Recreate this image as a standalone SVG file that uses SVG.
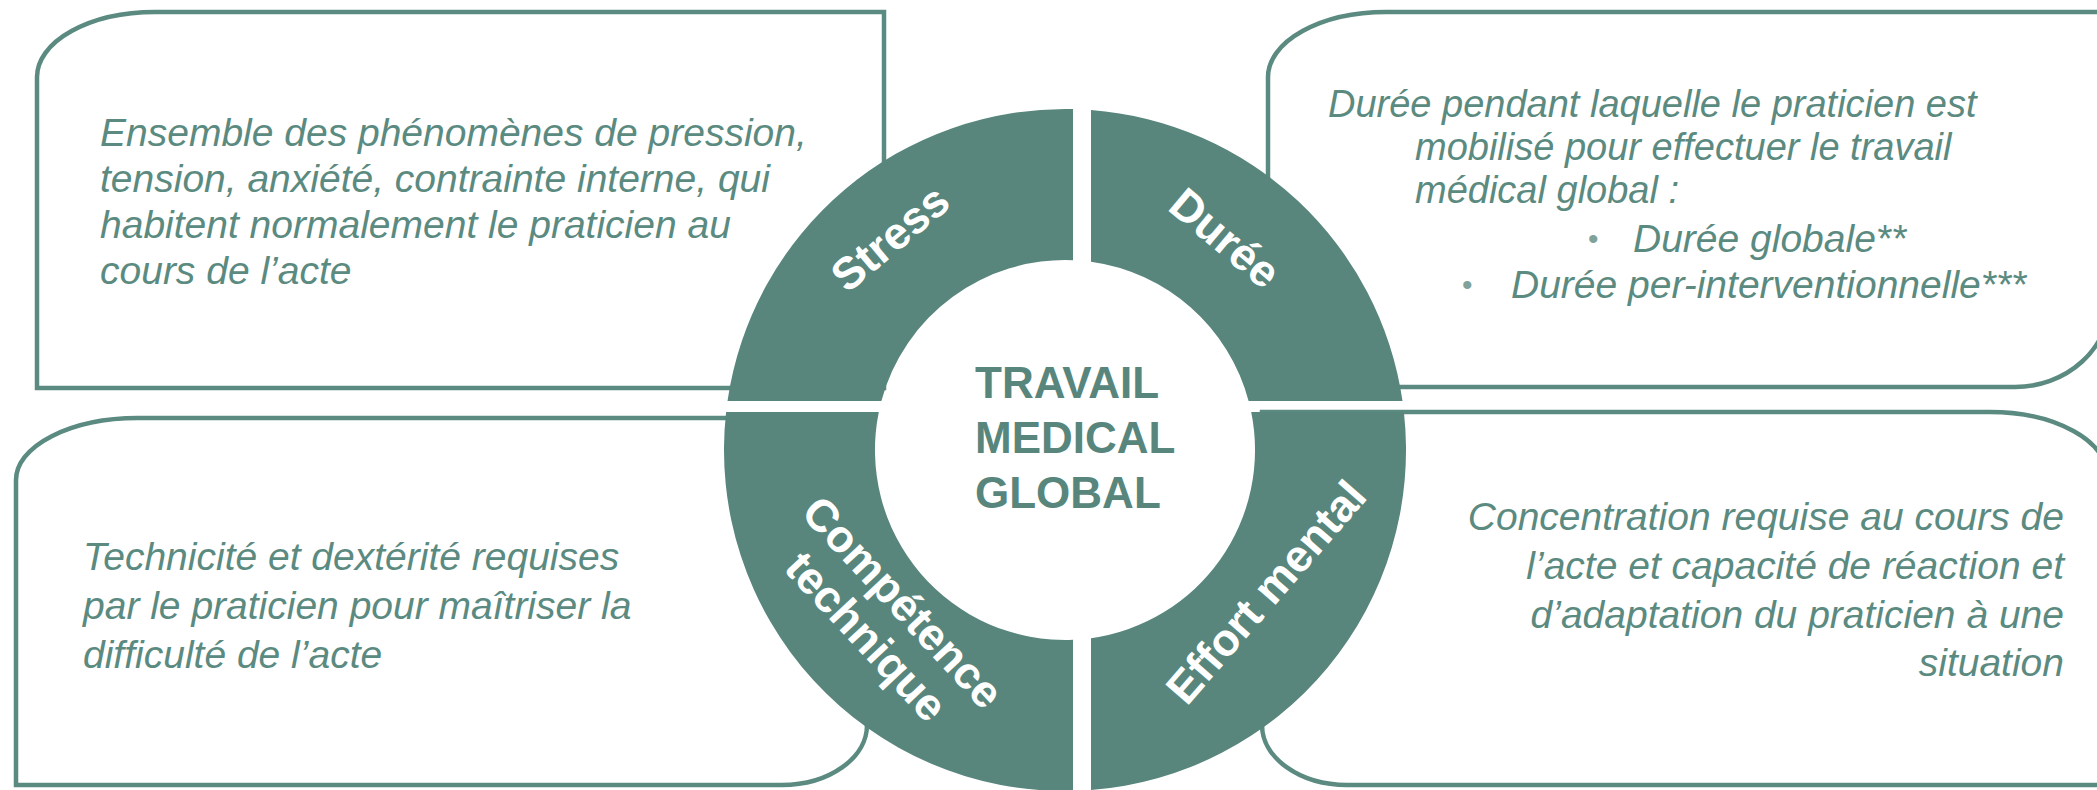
<svg xmlns="http://www.w3.org/2000/svg" width="2097" height="790" viewBox="0 0 2097 790">
<style>
.box{fill:#ffffff;stroke:#5B8A80;stroke-width:4.5}
.q{fill:#58867C}
.desc{font-family:"Liberation Sans",Arial,sans-serif;font-style:italic;font-size:39px;fill:#5B8A80}
.tight{font-size:38px}
.bul{font-family:"Liberation Sans",Arial,sans-serif;font-size:30px;fill:#7FA39B}
.lab{font-family:"Liberation Sans",Arial,sans-serif;font-weight:bold;font-size:45px;fill:#ffffff}
.ctr{font-family:"Liberation Sans",Arial,sans-serif;font-weight:bold;font-size:44px;fill:#58867C}
</style>
<rect width="2097" height="790" fill="#ffffff"/>

<g id="box-stress">
<path class="box" d="M37,77 A118,65 0 0 1 155,12 L884,12 L884,388 L37,388 Z"/>
<text class="desc"><tspan x="100" y="146">Ensemble des phénomènes de pression,</tspan><tspan x="100" y="192">tension, anxiété, contrainte interne, qui</tspan><tspan x="100" y="238">habitent normalement le praticien au</tspan><tspan x="100" y="284">cours de l’acte</tspan></text>
</g>

<g id="box-duree">
<path class="box" d="M1268,77 A118,65 0 0 1 1386,12 L2110,12 L2110,300 A95,87 0 0 1 2015,387 L1268,387 Z"/>
<text class="desc tight"><tspan x="1328" y="117">Durée pendant laquelle le praticien est</tspan></text>
<text class="desc tight"><tspan x="1415" y="160">mobilisé pour effectuer le travail</tspan></text>
<text class="desc tight"><tspan x="1415" y="203">médical global :</tspan></text>
<text class="bul" x="1588" y="249">•</text>
<text class="desc"><tspan x="1633" y="252">Durée globale**</tspan></text>
<text class="bul" x="1462" y="295">•</text>
<text class="desc"><tspan x="1511" y="298">Durée per-interventionnelle***</tspan></text>
</g>

<g id="box-competence">
<path class="box" d="M16,480 A122,62 0 0 1 138,418 L867,418 L867,725 A85,60 0 0 1 782,785 L16,785 Z"/>
<text class="desc"><tspan x="83" y="570">Technicité et dextérité requises</tspan><tspan x="83" y="619">par le praticien pour maîtriser la</tspan><tspan x="83" y="668">difficulté de l’acte</tspan></text>
</g>

<g id="box-effort">
<path class="box" d="M1262,412 L1990,412 A118,65 0 0 1 2108,477 L2108,785 L1347,785 A85,60 0 0 1 1262,725 Z"/>
<text class="desc" text-anchor="end"><tspan x="2064" y="530">Concentration requise au cours de</tspan><tspan x="2064" y="579">l’acte et capacité de réaction et</tspan><tspan x="2064" y="628">d’adaptation du praticien à une</tspan><tspan x="2064" y="676">situation</tspan></text>
</g>

<g id="seg-stress">
<path class="q" d="M1073,109.1 A341,341 0 0 0 727.5,401 L881.4,401 A190,190 0 0 1 1073,260.2 Z"/>
<text class="lab" text-anchor="middle" dominant-baseline="central" transform="translate(890,238) rotate(-40)">Stress</text>
</g>

<g id="seg-duree">
<path class="q" d="M1091,110 A341,341 0 0 1 1402.5,401 L1248.6,401 A190,190 0 0 0 1091,261.8 Z"/>
<text class="lab" text-anchor="middle" dominant-baseline="central" transform="translate(1225,238) rotate(40)">Durée</text>
</g>

<g id="seg-competence">
<path class="q" d="M726.1,412 L878.8,412 A190,190 0 0 0 1073,639.8 L1073,790.9 A341,341 0 0 1 726.1,412 Z"/>
<text class="lab" text-anchor="middle" dominant-baseline="central" transform="translate(885,619) rotate(47)"><tspan x="0" y="-25">Compétence</tspan><tspan x="0" y="25">technique</tspan></text>
</g>

<g id="seg-effort">
<path class="q" d="M1251.2,412 L1403.9,412 A341,341 0 0 1 1091,790 L1091,638.2 A190,190 0 0 0 1251.2,412 Z"/>
<text class="lab" text-anchor="middle" dominant-baseline="central" transform="translate(1266,592) rotate(-49)">Effort mental</text>
</g>

<g id="center">
<text class="ctr"><tspan x="975" y="398">TRAVAIL</tspan><tspan x="975" y="453">MEDICAL</tspan><tspan x="975" y="508">GLOBAL</tspan></text>
</g>

<g id="connectors"></g>
</svg>
